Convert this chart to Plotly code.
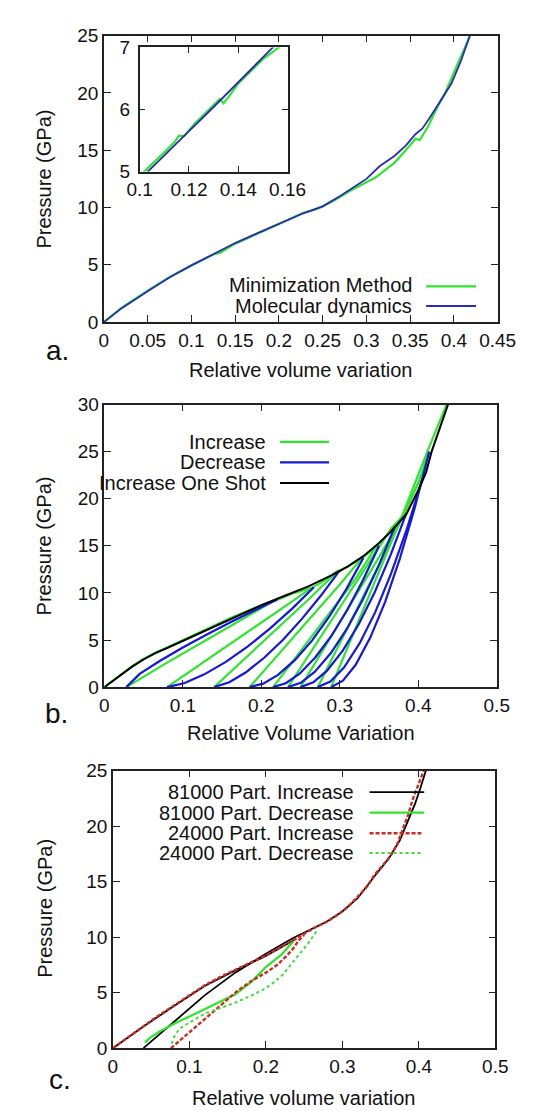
import plotly.graph_objects as go

# ---------------- Panel a data ----------------
a_md_x = [0, 0.02, 0.05, 0.075, 0.1, 0.125, 0.15, 0.175, 0.2, 0.228, 0.25, 0.27, 0.30, 0.315, 0.332, 0.345, 0.356, 0.364, 0.372, 0.3825, 0.397, 0.408, 0.4166, 0.42]
a_md_y = [0, 1.2, 2.7, 3.9, 4.95, 5.95, 6.9, 7.75, 8.6, 9.5, 10.1, 11.0, 12.5, 13.6, 14.5, 15.4, 16.4, 16.9, 17.8, 19.1, 20.8, 22.8, 24.8, 25.4]
a_min_x = [0, 0.02, 0.05, 0.075, 0.1, 0.117, 0.125, 0.133, 0.15, 0.165, 0.175, 0.2, 0.228, 0.24, 0.25, 0.265, 0.28, 0.30, 0.31, 0.322, 0.332, 0.345, 0.356, 0.361, 0.37, 0.38, 0.39, 0.40, 0.41, 0.418]
a_min_y = [0, 1.25, 2.75, 3.95, 4.95, 5.55, 5.9, 6.05, 6.85, 7.35, 7.7, 8.6, 9.55, 9.8, 10.1, 10.7, 11.4, 12.2, 12.6, 13.3, 13.9, 15.0, 16.0, 15.9, 17.0, 18.6, 20.0, 21.8, 23.5, 24.9]

inset_md_x = [0.1, 0.1034, 0.11, 0.12, 0.13, 0.14, 0.15, 0.1539, 0.16]
inset_md_y = [4.87, 5.0, 5.26, 5.65, 6.04, 6.44, 6.84, 7.0, 7.24]
inset_min_x = [0.1, 0.101, 0.105, 0.11, 0.114, 0.116, 0.118, 0.122, 0.126, 0.13, 0.1325, 0.134, 0.136, 0.14, 0.145, 0.15, 0.1564, 0.16]
inset_min_y = [4.93, 4.97, 5.12, 5.31, 5.47, 5.58, 5.57, 5.76, 5.91, 6.07, 6.17, 6.10, 6.20, 6.42, 6.62, 6.81, 7.0, 7.14]

# ---------------- Panel b data ----------------
b_shot_x = [0, 0.02, 0.035, 0.05, 0.065, 0.08, 0.1, 0.13, 0.16, 0.2, 0.23, 0.26, 0.29, 0.31, 0.33, 0.35, 0.365, 0.385, 0.40, 0.41, 0.417, 0.428, 0.438, 0.44]
b_shot_y = [0, 1.25, 2.15, 2.95, 3.6, 4.15, 4.9, 6.1, 7.2, 8.7, 9.7, 10.7, 11.9, 12.8, 13.9, 15.3, 16.5, 18.4, 20.9, 22.8, 25.0, 27.6, 30.0, 30.5]

b_inc_x = [
    [0, 0.02, 0.035, 0.05, 0.065, 0.08, 0.1, 0.13, 0.16, 0.19, 0.22],
    [0.028, 0.08, 0.13, 0.18, 0.215, 0.24, 0.267],
    [0.08, 0.13, 0.18, 0.23, 0.262, 0.28, 0.298],
    [0.14, 0.18, 0.22, 0.26, 0.296, 0.312, 0.328],
    [0.185, 0.22, 0.26, 0.30, 0.327, 0.338, 0.348],
    [0.215, 0.25, 0.29, 0.32, 0.347, 0.358, 0.368],
    [0.234, 0.27, 0.31, 0.34, 0.366, 0.375, 0.383],
    [0.25, 0.28, 0.32, 0.35, 0.382, 0.392, 0.402],
    [0.272, 0.30, 0.34, 0.37, 0.401, 0.407, 0.412],
    [0.289, 0.32, 0.35, 0.38, 0.411, 0.422, 0.436],
]
b_inc_y = [
    [0, 1.3, 2.2, 3.0, 3.65, 4.2, 4.95, 6.15, 7.3, 8.35, 9.3],
    [0, 2.6, 5.0, 7.4, 9.1, 9.95, 10.6],
    [0, 2.85, 5.7, 8.5, 10.4, 11.3, 12.4],
    [0, 3.1, 6.2, 9.3, 12.2, 12.9, 13.7],
    [0, 3.3, 7.1, 10.9, 13.6, 14.3, 15.0],
    [0, 3.8, 8.2, 11.5, 15.0, 15.9, 17.0],
    [0, 4.6, 9.7, 13.5, 16.9, 17.7, 18.5],
    [0, 4.1, 9.6, 13.8, 18.4, 20.2, 22.0],
    [0, 4.7, 11.3, 16.3, 21.9, 23.4, 25.0],
    [0, 6.2, 12.3, 18.3, 24.9, 27.2, 30.0],
]
b_dec_x = [
    [0.22, 0.19, 0.16, 0.13, 0.10, 0.07, 0.045, 0.028],
    [0.267, 0.2390, 0.2109, 0.1829, 0.1548, 0.1268, 0.1024, 0.08],
    [0.30, 0.276, 0.252, 0.228, 0.204, 0.18, 0.1592, 0.14],
    [0.33, 0.3083, 0.2865, 0.2648, 0.243, 0.2213, 0.2024, 0.185],
    [0.35, 0.3298, 0.3095, 0.2893, 0.269, 0.2488, 0.2312, 0.215],
    [0.37, 0.3496, 0.3292, 0.3088, 0.2884, 0.268, 0.2503, 0.234],
    [0.385, 0.3648, 0.3445, 0.3243, 0.304, 0.2838, 0.2662, 0.25],
    [0.405, 0.3851, 0.3651, 0.3452, 0.3252, 0.3053, 0.288, 0.272],
    [0.414, 0.3953, 0.3765, 0.3578, 0.339, 0.3203, 0.304, 0.289],
]
b_dec_y = [
    [9.3, 8.1, 6.85, 5.55, 4.2, 2.75, 1.4, 0],
    [10.6, 8.31, 6.21, 4.32, 2.68, 1.33, 0.44, 0],
    [12.4, 9.72, 7.27, 5.06, 3.14, 1.55, 0.52, 0],
    [13.7, 10.4, 7.47, 4.96, 2.89, 1.30, 0.37, 0],
    [15.0, 11.39, 8.18, 5.43, 3.17, 1.42, 0.41, 0],
    [17.0, 12.9, 9.27, 6.15, 3.59, 1.61, 0.46, 0],
    [18.5, 14.04, 10.08, 6.70, 3.90, 1.75, 0.50, 0],
    [22.0, 16.7, 12.0, 7.96, 4.64, 2.08, 0.60, 0],
    [25.0, 18.98, 13.63, 9.05, 5.28, 2.37, 0.68, 0],
]

# ---------------- Panel c data ----------------
c_inc81_x1 = [0, 0.04, 0.08, 0.12, 0.16, 0.2, 0.24]
c_inc81_y1 = [0, 1.95, 3.8, 5.6, 7.0, 8.3, 9.85]
c_inc81_x2 = [0.04, 0.08, 0.12, 0.16, 0.2, 0.235, 0.26, 0.28, 0.3, 0.32, 0.34, 0.36, 0.375, 0.385, 0.395, 0.402, 0.41, 0.416]
c_inc81_y2 = [0, 2.4, 4.75, 6.8, 8.5, 9.9, 10.7, 11.4, 12.3, 13.5, 15.3, 17.0, 18.7, 20.3, 22.0, 23.4, 25.2, 26.5]
c_dec81_x = [0.236, 0.22, 0.2, 0.18, 0.16, 0.14, 0.12, 0.1, 0.08, 0.06, 0.048, 0.042]
c_dec81_y = [9.6, 8.4, 7.3, 5.9, 4.85, 4.15, 3.5, 2.85, 2.2, 1.45, 0.9, 0.5]
c_inc24_x1 = [0, 0.02, 0.04, 0.06, 0.08, 0.1, 0.12, 0.14, 0.16, 0.18, 0.2, 0.22, 0.24, 0.26, 0.28, 0.296, 0.31, 0.321, 0.333, 0.342, 0.352, 0.363, 0.372, 0.38, 0.386, 0.392, 0.399, 0.405, 0.412]
c_inc24_y1 = [0, 1.0, 2.0, 2.95, 3.85, 4.75, 5.65, 6.4, 7.05, 7.7, 8.35, 9.1, 9.9, 10.7, 11.4, 12.1, 12.9, 13.7, 14.6, 15.6, 16.4, 17.3, 18.4, 19.8, 21.0, 22.4, 23.6, 24.8, 26.0]
c_inc24_x2 = [0.076, 0.1, 0.12, 0.14, 0.16, 0.18, 0.2, 0.215, 0.227, 0.236, 0.243, 0.25]
c_inc24_y2 = [0, 1.4, 2.65, 3.8, 5.0, 6.0, 6.8, 7.5, 8.3, 9.0, 9.7, 10.2]
c_dec24_x = [0.266, 0.255, 0.243, 0.232, 0.222, 0.21, 0.2, 0.18, 0.16, 0.14, 0.12, 0.1, 0.087, 0.08, 0.076]
c_dec24_y = [10.5, 9.4, 8.4, 7.4, 6.6, 5.9, 5.4, 4.7, 4.1, 3.6, 3.1, 2.3, 1.75, 1.0, 0.2]

# ---------------- styling ----------------
W, H = 535, 1111
FONT = "Liberation Sans, Arial, Helvetica, sans-serif"
GREEN = "#2fe62f"
BLUE_A = "#2a2ab4"
BLUE_B = "#1616e0"
RED = "#cc2a22"
GREEN_DOT = "#3ddc3d"
RED_DASH = "4px,2px"
GREEN_DASH = "3px,3px"


def px(x):
    return x / W


def py(y):
    return 1 - y / H


fig = go.Figure()


def line(x, y, color, xa, ya, width=2.0, dash="solid", name=None):
    fig.add_trace(go.Scatter(x=x, y=y, mode="lines", xaxis=xa, yaxis=ya,
                             line=dict(color=color, width=width, dash=dash),
                             name=name, showlegend=False, hoverinfo="skip"))


# panel a
line(a_min_x, a_min_y, GREEN, "x", "y", 2.2, name="Minimization Method")
line(a_md_x, a_md_y, BLUE_A, "x", "y", 1.8, name="Molecular dynamics")
line(inset_min_x, inset_min_y, GREEN, "x2", "y2", 2.2, name="Minimization Method")
line(inset_md_x, inset_md_y, BLUE_A, "x2", "y2", 1.8, name="Molecular dynamics")

# panel b
for xs, ys in zip(b_inc_x, b_inc_y):
    line(xs, ys, GREEN, "x3", "y3", 2.2, name="Increase")
for xs, ys in zip(b_dec_x, b_dec_y):
    line(xs, ys, BLUE_B, "x3", "y3", 2.2, name="Decrease")
line(b_shot_x, b_shot_y, "#000000", "x3", "y3", 2.0, name="Increase One Shot")

# panel c
line(c_inc81_x1, c_inc81_y1, "#000000", "x4", "y4", 1.8, name="81000 Part. Increase")
line(c_inc81_x2, c_inc81_y2, "#000000", "x4", "y4", 1.8, name="81000 Part. Increase")
line(c_dec81_x, c_dec81_y, GREEN, "x4", "y4", 2.2, name="81000 Part. Decrease")
line(c_inc24_x1, c_inc24_y1, RED, "x4", "y4", 2.4, dash=RED_DASH, name="24000 Part. Increase")
line(c_inc24_x2, c_inc24_y2, RED, "x4", "y4", 2.4, dash=RED_DASH, name="24000 Part. Increase")
line(c_dec24_x, c_dec24_y, GREEN_DOT, "x4", "y4", 2.0, dash=GREEN_DASH, name="24000 Part. Decrease")

axis_common = dict(showline=True, linecolor="#222", linewidth=1.5, mirror="allticks",
                   ticks="inside", ticklen=7, tickwidth=1.3, tickcolor="#222",
                   showgrid=False, zeroline=False,
                   tickfont=dict(family=FONT, size=19, color="#111"))
inset_axis = {**axis_common, "ticklen": 6}

fig.update_layout(
    width=W, height=H, autosize=False,
    margin=dict(l=0, r=0, t=0, b=0),
    paper_bgcolor="white", plot_bgcolor="white",
    showlegend=False,
    xaxis=dict(domain=[px(88), px(506)], anchor="y", range=[0, 0.45], dtick=0.05, tick0=0, **axis_common),
    yaxis=dict(domain=[py(310), py(18)], anchor="x", range=[0, 25], dtick=5, tick0=0, **axis_common),
    xaxis2=dict(domain=[px(126), px(283)], anchor="y2", range=[0.1, 0.16], dtick=0.02, tick0=0.1, **inset_axis),
    yaxis2=dict(domain=[py(156.5), py(30)], anchor="x2", range=[5, 7], dtick=1, tick0=5,
                ticklabelstandoff=4, **inset_axis),
    xaxis3=dict(domain=[px(88.5), px(505)], anchor="y3", range=[0, 0.5], dtick=0.1, tick0=0, **axis_common),
    yaxis3=dict(domain=[py(682), py(394)], anchor="x3", range=[0, 30], dtick=5, tick0=0, **axis_common),
    xaxis4=dict(domain=[px(97.5), px(503.5)], anchor="y4", range=[0, 0.5], dtick=0.1, tick0=0, **axis_common),
    yaxis4=dict(domain=[py(1050), py(767)], anchor="x4", range=[0, 25], dtick=5, tick0=0, **axis_common),
)

annotations = []
shapes = []


def text(x, y, s, size=20, xanchor="center", angle=0):
    annotations.append(dict(x=px(x), y=py(y), xref="paper", yref="paper", text=s, showarrow=False,
                            xanchor=xanchor, yanchor="middle", textangle=angle,
                            font=dict(family=FONT, size=size, color="#111")))


def sample(x0, x1, y, color, width=2.2, dash="solid"):
    shapes.append(dict(type="line", xref="paper", yref="paper", x0=px(x0), x1=px(x1), y0=py(y), y1=py(y),
                       line=dict(color=color, width=width, dash=dash)))


# axis titles
text(297, 359, "Relative volume variation")
text(24, 164, "Pressure (GPa)", angle=-90)
text(297, 729, "Relative Volume Variation")
text(24, 538, "Pressure (GPa)", angle=-90)
text(300, 1101, "Relative volume variation")
text(25.5, 908, "Pressure (GPa)", angle=-90)

# panel labels
text(39, 339, "a.", size=28)
text(38, 709, "b.", size=28)
text(41, 1082, "c.", size=28)

# legend a
text(417, 272, "Minimization Method", xanchor="right")
text(417, 294, "Molecular dynamics", xanchor="right")
sample(430, 483, 273.5, GREEN)
sample(430, 483, 293.5, BLUE_A, 2.0)

# legend b
text(262, 432, "Increase", xanchor="right")
text(262, 453, "Decrease", xanchor="right")
text(262, 474, "Increase One Shot", xanchor="right")
sample(275, 327, 432, GREEN)
sample(275, 327, 453, BLUE_B)
sample(275, 327, 474, "#000000", 2.0)

# legend c
text(356, 789, "81000 Part. Increase", xanchor="right")
text(356, 810, "81000 Part. Decrease", xanchor="right")
text(356, 831, "24000 Part. Increase", xanchor="right")
text(356, 851, "24000 Part. Decrease", xanchor="right")
sample(370, 428, 789, "#000000", 1.8)
sample(370, 428, 810, GREEN)
sample(370, 425, 831, RED, 2.4, RED_DASH)
sample(370, 425, 851, GREEN_DOT, 2.0, GREEN_DASH)

fig.update_layout(annotations=annotations, shapes=shapes)

fig.write_html("out.html")
